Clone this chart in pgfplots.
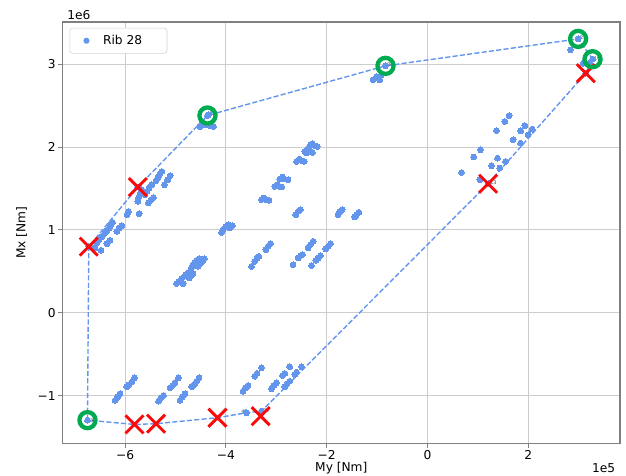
\documentclass[border=0pt]{standalone}
\usepackage{fontspec}
\setmainfont{DejaVu Sans}
\usepackage{pgfplots}
\pgfplotsset{compat=1.18}
\definecolor{cblue}{RGB}{100,149,237}
\definecolor{cgreen}{RGB}{0,170,80}
\definecolor{cred}{RGB}{250,10,10}
\definecolor{cframe}{RGB}{128,128,128}
\definecolor{cgrid}{RGB}{205,205,205}
\definecolor{clegend}{RGB}{210,210,210}
\begin{document}
\begin{tikzpicture}
\useasboundingbox (-45.1pt,-23pt) rectangle (406.1pt,319.6pt);
\begin{axis}[
  at={(0,0)}, anchor=south west,
  scale only axis, width=401.8pt, height=303.8pt,
  xmin=-7.24, xmax=3.82, ymin=-1.575, ymax=3.51,
  xtick={-6,-4,-2,0,2}, xticklabels={−6,−4,−2,0,2},
  ytick={-1,0,1,2,3}, yticklabels={−1,0,1,2,3},
  scaled ticks=false,
  tick align=outside, tick pos=left,
  major tick length=3.5pt,
  tick style={cframe, line width=0.7pt},
  axis line style={cframe, line width=1pt},
  grid=major, major grid style={cgrid, line width=0.7pt},
  font=\fontsize{8.8}{10.5}\selectfont,
  xticklabel style={yshift=2pt},
  yticklabel style={xshift=2pt},
  xlabel={My [Nm]}, ylabel={Mx [Nm]},
  xlabel style={at={(axis description cs:0.5,0)}, anchor=center, yshift=-18pt},
  ylabel style={at={([xshift=-29.5pt]axis description cs:0,0.5)}, anchor=center},
  legend style={at={(axis description cs:0.0125,0.986)}, anchor=north west,
    draw=clegend, rounded corners=2pt, fill=white,
    font=\fontsize{8.8}{10.5}\selectfont, inner xsep=4pt, inner ysep=3pt},
  legend image code/.code={
    \path[draw=none, fill=none] (0pt,0pt) rectangle (18pt,0pt);
    \fill[cblue, draw=none] (8pt,0pt) circle (2.2pt);
  },
  legend cell align=left,
  clip=false,
]
% scatter points (x in 1e5 Nm, y in 1e6 Nm)
\addplot[only marks, mark=*, mark size=2.1pt, mark options={fill=cblue, draw=cblue, line width=0pt}] coordinates {
(-5.272,1.706) (-5.317,1.666) (-5.351,1.627) (-5.385,1.594) (-5.107,1.654) (-5.153,1.606)
(-5.218,1.546) (-5.470,1.546) (-5.524,1.506) (-5.569,1.465) (-5.603,1.425) (-5.669,1.486)
(-5.702,1.437) (-5.734,1.386) (-5.748,1.345) (-5.437,1.393) (-5.484,1.365) (-5.536,1.325)
(-5.933,1.224) (-5.960,1.184) (-5.722,1.196) (-6.065,1.052) (-6.119,1.024) (-6.165,0.983)
(-6.250,1.092) (-6.284,1.060) (-6.317,1.024) (-6.363,0.992) (-6.409,0.955) (-6.462,0.916)
(-6.516,0.883) (-6.561,0.843) (-6.298,0.875) (-6.363,0.835) (-6.476,0.754) (-6.595,0.783)
(-6.720,0.799) (-5.748,1.518)
(-4.345,2.389) (-4.419,2.269) (-4.319,2.257) (-4.246,2.248) (-4.514,2.248) (-4.458,2.305) (-4.365,2.381)
(-4.056,1.004) (-4.002,1.043) (-3.956,1.064) (-3.923,1.024) (-3.869,1.052) (-4.087,0.971)
(-4.980,0.353) (-4.929,0.381) (-4.881,0.410) (-4.849,0.353) (-4.829,0.441) (-4.796,0.461)
(-4.750,0.482) (-4.730,0.422) (-4.683,0.449) (-4.651,0.473) (-4.683,0.542) (-4.651,0.582)
(-4.617,0.610) (-4.583,0.634) (-4.532,0.651) (-4.552,0.561) (-4.504,0.594) (-4.464,0.622) (-4.429,0.654)
(-3.492,0.561) (-3.427,0.622) (-3.381,0.663) (-3.347,0.682) (-3.208,0.763) (-3.163,0.802) (-3.115,0.835)
(-2.667,0.582) (-2.567,0.663) (-2.520,0.690) (-2.480,0.702) (-2.369,0.783) (-2.321,0.823) (-2.270,0.863)
(-2.302,0.570) (-2.216,0.634) (-2.171,0.663) (-2.123,0.690) (-2.018,0.771) (-1.972,0.802) (-1.925,0.835)
(-2.369,1.988) (-2.321,2.028) (-2.282,2.040) (-2.236,2.016) (-2.190,2.007) (-2.435,1.947)
(-2.401,1.928) (-2.335,1.947) (-2.282,1.935) (-2.599,1.827) (-2.548,1.855) (-2.500,1.839)
(-2.448,1.827) (-2.931,1.614) (-2.877,1.639) (-2.831,1.614) (-2.766,1.606) (-3.030,1.525)
(-2.984,1.546) (-2.931,1.525) (-2.891,1.518) (-3.294,1.365) (-3.248,1.386) (-3.194,1.365)
(-3.143,1.357) (-2.613,1.184) (-2.567,1.224) (-2.520,1.245) (-1.774,1.184) (-1.740,1.224)
(-1.694,1.245) (-1.442,1.157) (-1.409,1.184) (-1.363,1.212)
(-1.079,2.811) (-1.012,2.851) (-0.946,2.811) (-0.913,2.871) (-0.833,2.980)
(2.837,3.172) (2.988,3.305) (3.087,3.012) (3.206,3.012) (3.274,3.060) (3.141,2.892)
(1.619,2.377) (1.534,2.308) (1.369,2.200) (1.931,2.257) (1.851,2.196) (1.996,2.148)
(2.075,2.217) (1.698,2.088) (1.845,2.048) (1.052,1.967) (0.919,1.880) (1.389,1.867)
(1.270,1.775) (1.435,1.747) (1.548,1.827) (0.675,1.694) (1.038,1.606) (1.202,1.558)
(-6.198,-1.053) (-6.145,-1.012) (-6.099,-0.976) (-5.966,-0.892) (-5.921,-0.864) (-5.867,-0.836) (-5.813,-0.783)
(-5.337,-1.065) (-5.286,-1.024) (-5.238,-0.996) (-5.107,-0.904) (-5.060,-0.876) (-5.008,-0.843) (-4.940,-0.783)
(-4.909,-1.053) (-4.861,-1.012) (-4.810,-0.976) (-4.677,-0.892) (-4.623,-0.864) (-4.577,-0.824) (-4.532,-0.783)
(-3.659,-0.945) (-3.605,-0.904) (-3.560,-0.876) (-3.427,-0.764) (-3.381,-0.731) (-3.294,-0.663)
(-3.095,-0.916) (-3.050,-0.876) (-2.996,-0.843) (-2.877,-0.755) (-2.831,-0.731) (-2.732,-0.651)
(-2.831,-0.892) (-2.786,-0.852) (-2.732,-0.824) (-2.633,-0.743) (-2.599,-0.716) (-2.500,-0.651)
(-3.591,-1.205) (-3.294,-1.186) (-6.746,-1.294)
};
\addlegendentry{Rib 28\rule{11.9pt}{0pt}}
% hull
\addplot[forget plot, cblue, dash pattern=on 3.7pt off 1.6pt, line width=1pt] coordinates {
(-6.746,-1.294) (-6.720,0.799) (-5.748,1.518) (-4.365,2.381) (-0.833,2.980) (2.988,3.305)
(3.274,3.060) (3.141,2.892) (1.202,1.558) (-3.294,-1.186) (-3.591,-1.205) (-4.167,-1.265)
(-5.385,-1.337) (-5.813,-1.346) (-6.746,-1.294)
};
% red crosses
\addplot[forget plot, only marks, mark=x, mark size=9.2pt, mark options={draw=cred, line width=2.1pt}] coordinates {
(-6.720,0.799) (-5.748,1.518) (3.141,2.892) (1.202,1.558) (-3.310,-1.246)
(-4.167,-1.265) (-5.385,-1.337) (-5.813,-1.346)
};
% green circles
\addplot[forget plot, only marks, mark=o, mark size=5.8pt, mark options={draw=cgreen, line width=3.1pt}] coordinates {
(-6.746,-1.294) (-4.365,2.381) (-0.833,2.980) (2.988,3.305) (3.274,3.060)
};
% point labels
\begin{scope}[every node/.style={font=\fontsize{3.5}{4}\selectfont, text=black!80, inner sep=0pt, anchor=west}]
\node at (axis cs:-6.70,-1.30) {3};
\node at (axis cs:-6.68,0.82) {7};
\node at (axis cs:-5.72,1.54) {2};
\node at (axis cs:-4.33,2.40) {27};
\node at (axis cs:-0.80,2.99) {20};
\node at (axis cs:3.02,3.32) {21};
\node at (axis cs:3.30,3.07) {19};
\node at (axis cs:1.24,1.57) {13};
\node at (axis cs:-3.70,-1.19) {41};
\node at (axis cs:-3.26,-1.18) {37};
\end{scope}
\node[anchor=east, font=\fontsize{8.8}{10.5}\selectfont] at ([yshift=-18pt]axis description cs:1,0) {1e5};
\node[anchor=west, font=\fontsize{8.8}{10.5}\selectfont] at ([yshift=5pt]axis description cs:0,1) {1e6};
\end{axis}
\end{tikzpicture}
\end{document}
